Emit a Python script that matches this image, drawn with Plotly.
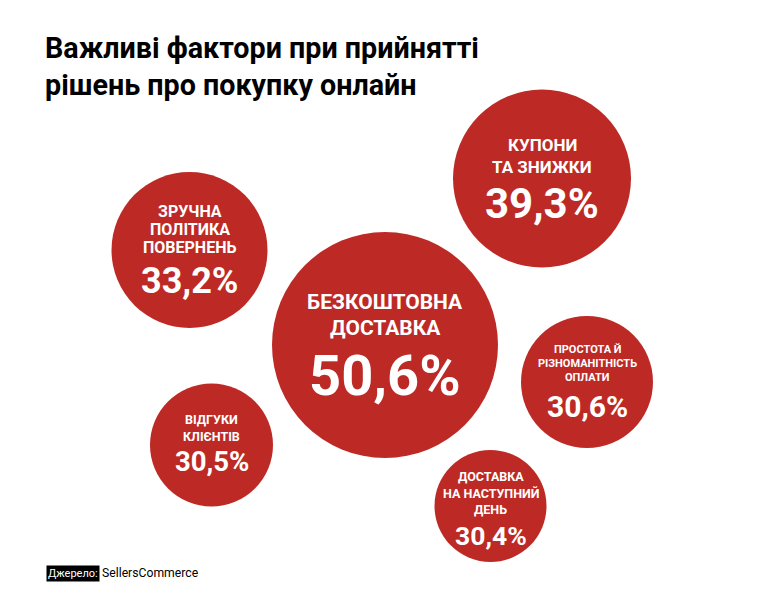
import plotly.graph_objects as go

# дані
categories = [
    ["БЕЗКОШТОВНА", "ДОСТАВКА"],
    ["КУПОНИ", "ТА ЗНИЖКИ"],
    ["ЗРУЧНА", "ПОЛІТИКА", "ПОВЕРНЕНЬ"],
    ["ПРОСТОТА Й", "РІЗНОМАНІТНІСТЬ", "ОПЛАТИ"],
    ["ВІДГУКИ", "КЛІЄНТІВ"],
    ["ДОСТАВКА", "НА НАСТУПНИЙ", "ДЕНЬ"],
]
values = [50.6, 39.3, 33.2, 30.6, 30.5, 30.4]

TITLE = "Важливі фактори при прийнятті<br>рішень про покупку онлайн"
SOURCE_LABEL = "Джерело:"
SOURCE = "SellersCommerce"

# розкладка бульбашок (px на полотні 764x611)
cx = [385, 542, 189.5, 587, 211.5, 490.5]
cy = [345, 178.5, 250, 382, 445, 506]
radius = [113, 89, 78, 66, 61.5, 56]
label_size = [21, 17, 16, 11, 12.5, 12.5]
label_step = [26.5, 21.5, 17.7, 14, 17, 16.3]
label_top = [301.7, 145, 211.7, 349, 419, 476.7]
pct_y = [376, 203, 280.7, 406, 461.7, 535]
pct_size = [56, 42, 36, 30, 27.5, 26.5]

RED = "#BD2A26"
FONT = "Roboto, sans-serif"
W, H = 764, 611
OFF = 8  # відступ body сторінки

fig = go.Figure()
fig.add_trace(go.Scatter(
    x=cx, y=cy, mode="markers",
    marker=dict(size=[2 * r for r in radius], sizemode="diameter",
                color=RED, line=dict(width=0), opacity=1),
    hoverinfo="skip", showlegend=False,
))

ann = []
for i, lines in enumerate(categories):
    for j, line in enumerate(lines):
        ann.append(dict(x=cx[i], y=label_top[i] + j * label_step[i], text=line,
                        showarrow=False, xanchor="center", yanchor="middle",
                        font=dict(family=FONT, size=label_size[i], color="white", weight="bold")))
    ann.append(dict(x=cx[i], y=pct_y[i], text=f"{values[i]:.1f}%".replace(".", ","),
                    showarrow=False, xanchor="center", yanchor="middle",
                    font=dict(family=FONT, size=pct_size[i], color="white", weight="bold")))

ann.append(dict(x=43, y=66, text=TITLE, showarrow=False, xanchor="left", yanchor="middle", align="left",
                font=dict(family=FONT, size=28.7, color="black", weight="bold")))
ann.append(dict(x=46, y=573, text=SOURCE_LABEL, showarrow=False, xanchor="left", yanchor="middle",
                bgcolor="black", borderpad=1,
                font=dict(family=FONT, size=11, color="white")))
ann.append(dict(x=99.5, y=573, text=SOURCE, showarrow=False, xanchor="left", yanchor="middle",
                font=dict(family=FONT, size=12.2, color="black")))

fig.update_layout(
    width=W, height=H, margin=dict(l=0, r=0, t=0, b=0),
    paper_bgcolor="white", plot_bgcolor="white",
    xaxis=dict(range=[OFF, W + OFF], visible=False, fixedrange=True),
    yaxis=dict(range=[H + OFF, OFF], visible=False, fixedrange=True),
    annotations=ann,
)

fig.write_html("out.html")
